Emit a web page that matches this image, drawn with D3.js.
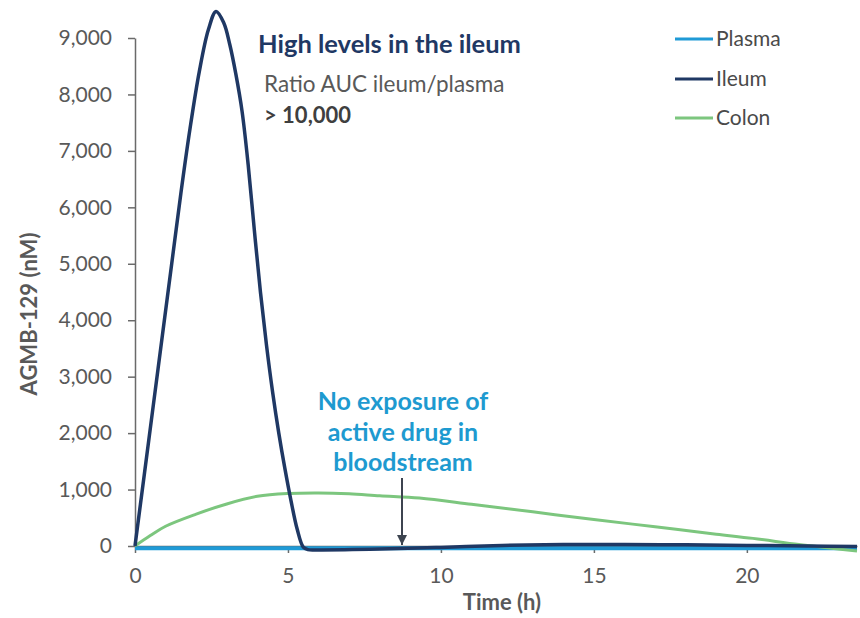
<!DOCTYPE html>
<html>
<head>
<meta charset="utf-8">
<script src="https://cdn.jsdelivr.net/npm/d3@7"></script>
<style>
  html, body { margin: 0; padding: 0; background: #ffffff; }
  svg { display: block; font-family: Lato, "Open Sans", sans-serif; }
</style>
</head>
<body>
<svg id="chart" width="860" height="618"></svg>
<script>
// ---- data ----
const seriesNames = ["Plasma", "Ileum", "Colon"];
const plasmaTime = [0, 2, 4, 6, 8, 10, 12, 14, 16, 18, 20, 22, 23.6];
const plasmaValues = [-40, -40, -40, -40, -40, -40, -40, -40, -40, -40, -40, -40, -40];
const ileumTime = [0, 0.3, 0.6, 0.9, 1.2, 1.5, 1.8, 2.1, 2.4, 2.65, 2.9, 3.1, 3.3, 3.5, 3.7, 3.9, 4.1, 4.3, 4.5, 4.7, 4.9, 5.1, 5.3, 5.5, 5.65, 6, 8, 10, 12, 14, 16, 18, 20, 22, 23.6];
const ileumValues = [0, 1250, 2500, 3750, 5000, 6250, 7400, 8400, 9150, 9470, 9270, 8880, 8350, 7700, 6750, 5600, 4500, 3550, 2720, 2000, 1370, 800, 300, -20, -65, -70, -55, -25, 10, 25, 25, 20, 10, 0, -10];
const colonTime = [0, 0.5, 1, 2, 3, 4, 5, 6, 7, 8, 9.3, 11, 13, 15, 17, 19, 20.2, 21.7, 22.7, 23.6];
const colonValues = [0, 185, 350, 565, 745, 880, 930, 940, 925, 890, 850, 740, 605, 470, 340, 210, 135, 25, -35, -90];
const xTicks = [0, 5, 10, 15, 20];
const yTicks = [0, 1000, 2000, 3000, 4000, 5000, 6000, 7000, 8000, 9000];
const colors = { Plasma: "#1f9ad6", Ileum: "#1f3864", Colon: "#7cc67e" };

// ---- scales ----
const svg = d3.select("#chart");
const x = d3.scaleLinear().domain([0, 23.6]).range([135, 857]);
const y = d3.scaleLinear().domain([0, 9000]).range([546, 38]);

const axisColor = "#6a6a6a";
const labelColor = "#595959";

// y axis
const yAxis = svg.append("g").attr("transform", "translate(135,0)")
  .call(d3.axisLeft(y).tickValues(yTicks).tickFormat(d3.format(",")).tickSize(7).tickSizeOuter(0).tickPadding(16));
yAxis.select(".domain").attr("stroke", axisColor).attr("stroke-width", 1.5);
yAxis.selectAll(".tick line").attr("stroke", axisColor).attr("stroke-width", 1.5);
yAxis.selectAll(".tick text").attr("fill", labelColor).style("font-size", "21px").style("font-family", "Lato");

// x axis
const xAxis = svg.append("g").attr("transform", "translate(0,546)")
  .call(d3.axisBottom(x).tickValues(xTicks).tickSize(7).tickSizeOuter(0).tickPadding(15));
xAxis.select(".domain").attr("stroke", axisColor).attr("stroke-width", 1.5);
xAxis.selectAll(".tick line").attr("stroke", axisColor).attr("stroke-width", 1.5);
xAxis.selectAll(".tick text").attr("fill", labelColor).style("font-size", "21px").style("font-family", "Lato");

// axis titles
svg.append("text").attr("x", 502).attr("y", 610).attr("text-anchor", "middle")
  .attr("fill", labelColor).style("font-size", "22px").style("font-weight", "bold").text("Time (h)");
svg.append("text").attr("transform", "translate(37,314) rotate(-90)").attr("text-anchor", "middle")
  .attr("fill", labelColor).style("font-size", "22px").style("font-weight", "bold").text("AGMB-129 (nM)");

// lines
const line = d3.line().x(d => x(d[0])).y(d => y(d[1])).curve(d3.curveCatmullRom.alpha(0.5));
const zip = (t, v) => t.map((tt, i) => [tt, v[i]]);

svg.append("path").datum(zip(plasmaTime, plasmaValues)).attr("d", line)
  .attr("fill", "none").attr("stroke", colors.Plasma).attr("stroke-width", 4);
svg.append("path").datum(zip(colonTime, colonValues)).attr("d", line)
  .attr("fill", "none").attr("stroke", colors.Colon).attr("stroke-width", 3);
svg.append("path").datum(zip(ileumTime, ileumValues)).attr("d", line)
  .attr("fill", "none").attr("stroke", colors.Ileum).attr("stroke-width", 3.5)
  .attr("stroke-linejoin", "round");

// legend
const legendY = [39, 79, 118];
seriesNames.forEach((name, i) => {
  svg.append("line").attr("x1", 675).attr("x2", 713).attr("y1", legendY[i]).attr("y2", legendY[i])
    .attr("stroke", colors[name]).attr("stroke-width", 3);
  svg.append("text").attr("x", 716).attr("y", legendY[i]).attr("dy", "0.35em")
    .attr("fill", "#4a4a4a").style("font-size", "21px").text(name);
});

// annotations
svg.append("text").attr("x", 258).attr("y", 53).attr("fill", "#1f3864")
  .style("font-size", "25.5px").style("font-weight", "bold").text("High levels in the ileum");
svg.append("text").attr("x", 264).attr("y", 92).attr("fill", labelColor)
  .style("font-size", "22.5px").text("Ratio AUC ileum/plasma");
svg.append("text").attr("x", 264).attr("y", 123).attr("fill", "#3f3f3f")
  .style("font-size", "22px").style("font-weight", "bold").text("> 10,000");

const note = ["No exposure of", "active drug in", "bloodstream"];
note.forEach((s, i) => {
  svg.append("text").attr("x", 403).attr("y", 410 + i * 30.5).attr("text-anchor", "middle")
    .attr("fill", "#1e9ad0").style("font-size", "25px").style("font-weight", "bold").text(s);
});

// arrow
svg.append("defs").append("marker").attr("id", "arr").attr("viewBox", "0 0 10 10")
  .attr("refX", 10).attr("refY", 5).attr("markerWidth", 10).attr("markerHeight", 10)
  .attr("markerUnits", "userSpaceOnUse").attr("orient", "auto")
  .append("path").attr("d", "M0,0 L10,5 L0,10 z").attr("fill", "#3d4450");
svg.append("line").attr("x1", 402).attr("x2", 402).attr("y1", 478).attr("y2", 545)
  .attr("stroke", "#3d4450").attr("stroke-width", 2).attr("marker-end", "url(#arr)");
</script>
</body>
</html>
